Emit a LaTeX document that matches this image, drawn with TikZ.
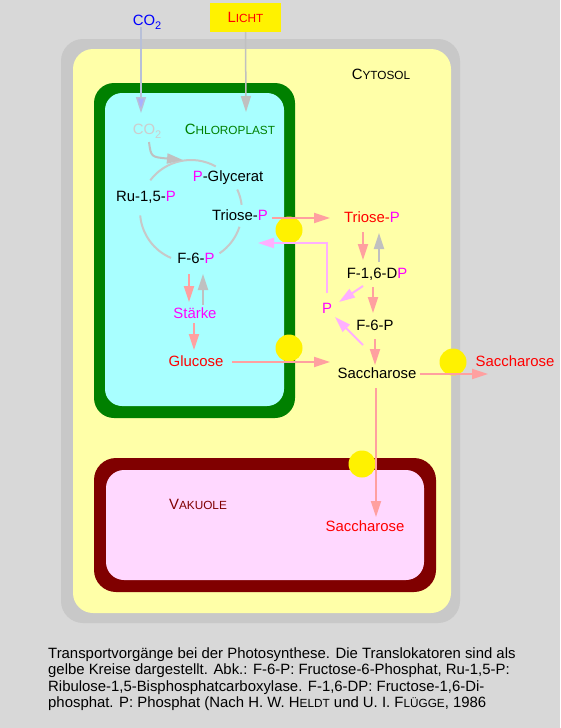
\documentclass[tikz,border=0pt]{standalone}
\usepackage{fontspec}
\setmainfont{Liberation Sans}
\usetikzlibrary{arrows.meta}

\definecolor{bggray}{HTML}{D8D8D8}
\definecolor{cellgray}{HTML}{C8C8C8}
\definecolor{cytoyellow}{HTML}{FFFFA8}
\definecolor{chlgreen}{HTML}{008000}
\definecolor{chlcyan}{HTML}{A8FFFF}
\definecolor{vakred}{HTML}{800000}
\definecolor{vakpink}{HTML}{FFD8FF}
\definecolor{salmon}{HTML}{FFA0A0}
\definecolor{lilac}{HTML}{FFB0FF}
\definecolor{arrgray}{HTML}{C0C0C0}
\definecolor{co2blue}{HTML}{A8B0FF}
\definecolor{co2line}{HTML}{B8C0D8}
\definecolor{phosph}{HTML}{FF00FF}

\newcommand\Pm{\textcolor{phosph}{P}}
\newcommand\fakesc[2]{#1{\fontsize{11.8}{11.8}\selectfont #2}}
\newcommand\cotwo{CO\raisebox{-4pt}{\fontsize{11}{11}\selectfont 2}}

\tikzset{
    lbl/.style={inner sep=0pt, text height=10.6pt, text depth=0pt, font=\fontsize{14.9}{17}\selectfont},
    salmonarrow/.style={draw=salmon, line width=2pt, -{Triangle[length=16pt,width=10pt]}},
    lilacarrow/.style={draw=lilac, line width=2pt, -{Triangle[length=16pt,width=10pt]}},
    grayarrow/.style={draw=arrgray, line width=2pt, -{Triangle[length=16pt,width=10pt]}},
    cyclearc/.style={draw=cellgray, line width=2pt},
    translocator/.style={circle, fill=yellow, minimum size=27pt, inner sep=0pt}
}

\begin{document}
\begin{tikzpicture}[x=1pt,y=-1pt]
    % Background and cell
    \useasboundingbox (0,0) rectangle (560,728);
    \fill[bggray] (0,0) rectangle (560,728);
    \fill[cellgray, rounded corners=22pt] (61,39) rectangle (460,623);
    \fill[cytoyellow, rounded corners=20pt] (73,49) rectangle (451,613);

    % Chloroplast and vacuole
    \fill[chlgreen, rounded corners=20pt] (94,83) rectangle (295,418);
    \fill[chlcyan, rounded corners=17pt] (105,93) rectangle (284,406);
    \fill[vakred, rounded corners=22pt] (94,458) rectangle (436,592);
    \fill[vakpink, rounded corners=18pt] (106,470) rectangle (424,580);

    % Translocators
    \node[translocator] (t1) at (289,230) {};
    \node[translocator] (t2) at (289,348) {};
    \node[translocator] (t3) at (453,362) {};
    \node[translocator] (t4) at (362,464) {};

    % Labels
    \node[lbl, text=blue] (co2out) at (147,20) {\cotwo};
    \node[lbl, fill=yellow, text=red, minimum width=71pt, minimum height=29pt] (licht) at (245.5,17.5) {\fakesc{L}{ICHT}};
    \node[lbl] (cytosol) at (381,74) {\fakesc{C}{YTOSOL}};
    \node[lbl, text=chlgreen] (chloro) at (230,129) {\fakesc{C}{HLOROPLAST}};
    \node[lbl, text=arrgray!80] (co2in) at (147,129) {\cotwo};
    \node[lbl] (pgly) at (228,176) {\Pm-Glycerat};
    \node[lbl] (ru) at (146,196) {Ru-1,5-\Pm};
    \node[lbl] (triA) at (240,215) {Triose-\Pm};
    \node[lbl] (f6a) at (196,258) {F-6-\Pm};
    \node[lbl, text=phosph] (staerke) at (195,313) {Stärke};
    \node[lbl, text=red] (glucose) at (196,361) {Glucose};
    \node[lbl] (triB) at (372,217) {\textcolor{red}{Triose-}\Pm};
    \node[lbl] (f16) at (377,273) {F-1,6-D\Pm};
    \node[lbl] (f6c) at (375,325) {F-6-P};
    \node[lbl, text=phosph] (pcyt) at (327,308) {P};
    \node[lbl] (sacc) at (377,373) {Saccharose};
    \node[lbl, text=red] (saccout) at (515,361) {Saccharose};
    \node[lbl, text=vakred] (vakuole) at (198,504) {\fakesc{V}{AKUOLE}};
    \node[lbl, text=red] (vsacc) at (365,526) {Saccharose};

    % Calvin cycle
    \coordinate (cyc) at (191,211);
    \draw[cyclearc] (cyc) ++(-143:51) arc[start angle=-143, end angle=-61, radius=51];
    \draw[cyclearc] (cyc) ++(-25:51) arc[start angle=-25, end angle=-7, radius=51];
    \draw[cyclearc] (cyc) ++(18:51) arc[start angle=18, end angle=56, radius=51];
    \draw[cyclearc] (cyc) ++(175:51) arc[start angle=175, end angle=113, radius=51];
    \coordinate (cyclein) at (183,160);
    \draw[grayarrow] ([shift={(2,13)}]co2in.center) .. controls (151,157) .. (cyclein);

    % Inputs from outside
    \coordinate (lichtend) at (246,112);
    \draw[draw=co2line, line width=1.5pt, -{Triangle[length=16pt,width=10pt,fill=co2blue]}]
        ([shift={(-6,7)}]co2out.center) -- ([shift={(-6,-16)}]co2in.center);
    \draw[draw=arrgray, line width=1.5pt, -{Triangle[length=16pt,width=10pt]}] (licht.south) -- (lichtend);

    % Chloroplast arrows
    \draw[salmonarrow] ([shift={(-7,16)}]f6a.center) -- ([shift={(-6,-11)}]staerke.center);
    \draw[grayarrow] ([shift={(8,-8)}]staerke.center) -- ([shift={(7,16)}]f6a.center);
    \draw[salmonarrow] ([shift={(-1,10)}]staerke.center) -- ([shift={(-2,-11)}]glucose.center);
    \draw[salmonarrow] ([shift={(36,1)}]glucose.center) -- ([shift={(-47,-11)}]sacc.center);
    \draw[salmonarrow] ([shift={(32,3)}]triA.center) -- ([shift={(-42,1)}]triB.center);

    % Cytosol arrows
    \draw[salmonarrow] ([shift={(-9,15)}]triB.center) -- ([shift={(-14,-13)}]f16.center);
    \draw[grayarrow] ([shift={(2,-11)}]f16.center) -- ([shift={(7,16)}]triB.center);
    \draw[salmonarrow] ([shift={(-4,14)}]f16.center) -- ([shift={(-2,-12)}]f6c.center);
    \draw[salmonarrow] ([shift={(0,14)}]f6c.center) -- ([shift={(-2,-8)}]sacc.center);
    \draw[lilacarrow] ([shift={(-14,13)}]f16.center) -- ([shift={(12,-6)}]pcyt.center);
    \draw[lilacarrow] ([shift={(-12,20)}]f6c.center) -- ([shift={(8,9)}]pcyt.center);
    \coordinate (pin) at (258,243);
    \draw[lilacarrow] ([shift={(0,-15)}]pcyt.center) |- (pin);
    \draw[salmonarrow] ([shift={(43,1)}]sacc.center) -- ([shift={(-27,13)}]saccout.center);
    \draw[salmonarrow] ([shift={(-1,15)}]sacc.center) -- ([shift={(11,-9)}]vsacc.center);

    % Caption
    \node[anchor=north west, inner sep=0pt, align=left, font=\fontsize{14.9}{16.5}\selectfont] (caption) at (48,647)
        {Transportvorgänge bei der Photosynthese. Die Translokatoren sind als\\
         gelbe Kreise dargestellt. Abk.: F-6-P: Fructose-6-Phosphat, Ru-1,5-P:\\
         Ribulose-1,5-Bisphosphatcarboxylase. F-1,6-DP: Fructose-1,6-Di-\\
         phosphat. P: Phosphat (Nach H. W. \fakesc{H}{ELDT} und U. I. \fakesc{F}{LÜGGE}, 1986};
\end{tikzpicture}
\end{document}
